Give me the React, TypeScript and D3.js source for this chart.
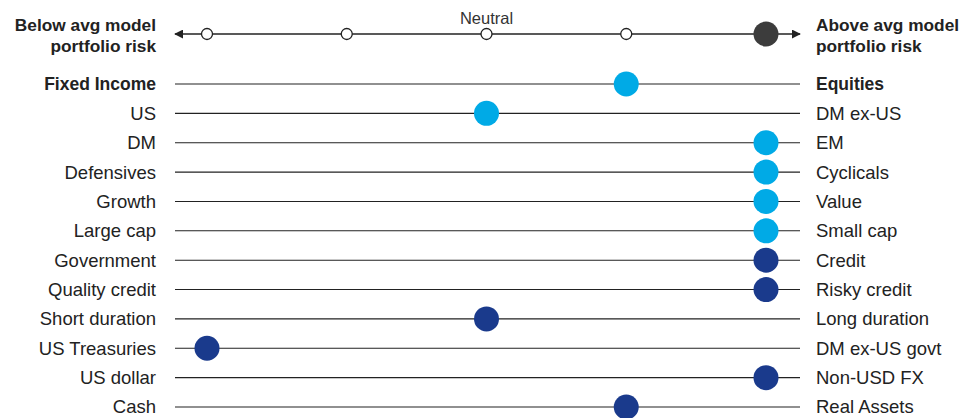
import React from "react";
import * as d3 from "d3";

// Tilt rows: left label (lower risk) vs right label (higher risk)
const leftLabels = [
  "Fixed Income", "US", "DM", "Defensives", "Growth", "Large cap",
  "Government", "Quality credit", "Short duration", "US Treasuries", "US dollar", "Cash",
];
const rightLabels = [
  "Equities", "DM ex-US", "EM", "Cyclicals", "Value", "Small cap",
  "Credit", "Risky credit", "Long duration", "DM ex-US govt", "Non-USD FX", "Real Assets",
];
// Position on the 5-step scale (1 = far left, 3 = neutral, 5 = far right)
const positions = [4, 3, 5, 5, 5, 5, 5, 5, 3, 1, 5, 4];
// Asset class of each row
const groups = [
  "equity", "equity", "equity", "equity", "equity", "equity",
  "fixed", "fixed", "fixed", "fixed", "fixed", "fixed",
];
// Overall model portfolio risk position
const overallPosition = 5;
const scaleSteps = [1, 2, 3, 4, 5];

const W = 980;
const H = 418;
const FONT = "'Liberation Sans', Arial, sans-serif";

export default function App() {
  const x = d3.scaleLinear().domain([1, 5]).range([207, 766]);
  const y = d3
    .scalePoint<string>()
    .domain(leftLabels)
    .range([84, 407]);
  const color = d3
    .scaleOrdinal<string, string>()
    .domain(["equity", "fixed"])
    .range(["#00aae6", "#1a3a8c"]);

  const lineX0 = 175;
  const lineX1 = 800;
  const topY = 34;

  return (
    <svg
      width={W}
      height={H}
      style={{ position: "absolute", left: 0, top: 0, background: "#fff" }}
      fontFamily={FONT}
    >
      <defs>
        <marker id="arrow" viewBox="0 0 10 10" refX="9" refY="5" markerWidth="9" markerHeight="9" markerUnits="userSpaceOnUse" orient="auto-start-reverse">
          <path d="M0,0 L10,5 L0,10 Z" fill="#222" />
        </marker>
      </defs>

      {/* Header scale */}
      <text x={156} y={31} textAnchor="end" fontWeight="bold" fontSize={17.3} fill="#222">Below avg model</text>
      <text x={156} y={52} textAnchor="end" fontWeight="bold" fontSize={17.3} fill="#222">portfolio risk</text>
      <text x={816} y={31} textAnchor="start" fontWeight="bold" fontSize={17.3} fill="#222">Above avg model</text>
      <text x={816} y={52} textAnchor="start" fontWeight="bold" fontSize={17.3} fill="#222">portfolio risk</text>
      <text x={x(3)} y={24} textAnchor="middle" fontSize={16.5} fill="#333">Neutral</text>

      <line x1={lineX0} x2={lineX1} y1={topY} y2={topY} stroke="#222" strokeWidth={1.3}
        markerStart="url(#arrow)" markerEnd="url(#arrow)" />
      {scaleSteps.map((s) => (
        <circle key={s} cx={x(s)} cy={topY} r={5.5} fill="#fff" stroke="#222" strokeWidth={1.3} />
      ))}
      <circle cx={x(overallPosition)} cy={topY} r={12.5} fill="#3c3c3c" />

      {/* Rows */}
      {leftLabels.map((lab, i) => {
        const cy = y(lab) as number;
        const bold = i === 0;
        return (
          <g key={lab}>
            <line x1={lineX0} x2={lineX1} y1={cy} y2={cy} stroke="#222" strokeWidth={1.1} />
            <text x={156} y={cy} dy="0.35em" textAnchor="end" fontSize={bold ? 17.5 : 18.5}
              fontWeight={bold ? "bold" : "normal"} fill="#222">{lab}</text>
            <text x={816} y={cy} dy="0.35em" textAnchor="start" fontSize={bold ? 17.5 : 18.5}
              fontWeight={bold ? "bold" : "normal"} fill="#222">{rightLabels[i]}</text>
            <circle cx={x(positions[i])} cy={cy} r={12.5} fill={color(groups[i])} />
          </g>
        );
      })}
    </svg>
  );
}
